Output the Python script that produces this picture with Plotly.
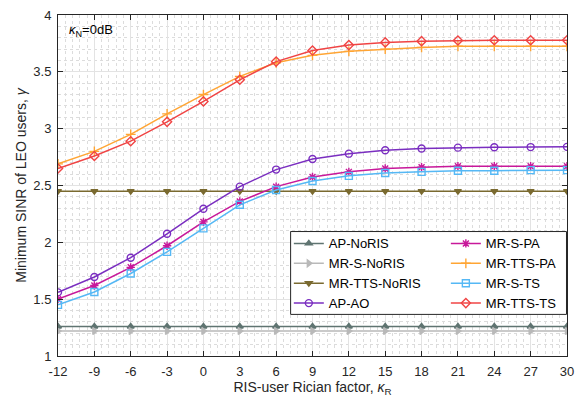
import plotly.graph_objects as go

x = [-12, -9, -6, -3, 0, 3, 6, 9, 12, 15, 18, 21, 24, 27, 30]

ap_noris = [1.26] * 15
mr_s_noris = [1.22] * 15
mr_tts_noris = [2.45] * 15
ap_ao = [1.56, 1.695, 1.865, 2.075, 2.295, 2.49, 2.64, 2.733, 2.78, 2.81, 2.825, 2.833, 2.836, 2.838, 2.84]
mr_s_pa = [1.50, 1.62, 1.78, 1.97, 2.18, 2.36, 2.49, 2.575, 2.62, 2.65, 2.66, 2.67, 2.67, 2.67, 2.67]
mr_tts_pa = [2.69, 2.80, 2.95, 3.13, 3.30, 3.46, 3.58, 3.645, 3.68, 3.70, 3.715, 3.725, 3.725, 3.725, 3.725]
mr_s_ts = [1.45, 1.563, 1.726, 1.916, 2.123, 2.33, 2.46, 2.54, 2.585, 2.61, 2.62, 2.63, 2.63, 2.635, 2.635]
mr_tts_ts = [2.65, 2.76, 2.89, 3.06, 3.24, 3.43, 3.59, 3.687, 3.735, 3.759, 3.77, 3.776, 3.778, 3.778, 3.778]

series = [
    # name, data, color, symbol, fill, legend, rank
    ("AP-NoRIS", ap_noris, "#5f7471", "triangle-up", True, "legend", 1),
    ("MR-S-NoRIS", mr_s_noris, "#b9b9b9", "triangle-right", True, "legend", 2),
    ("MR-TTS-NoRIS", mr_tts_noris, "#7a6a30", "triangle-down", True, "legend", 3),
    ("AP-AO", ap_ao, "#7a2ec0", "circle-open", False, "legend", 4),
    ("MR-S-PA", mr_s_pa, "#c8189a", "asterisk-open", False, "legend2", 5),
    ("MR-TTS-PA", mr_tts_pa, "#ffa534", "cross-thin-open", False, "legend2", 6),
    ("MR-S-TS", mr_s_ts, "#55b8f5", "square-open", False, "legend2", 7),
    ("MR-TTS-TS", mr_tts_ts, "#f04444", "diamond-open", False, "legend2", 8),
]

fig = go.Figure()
for name, ys, col, sym, filled, leg, rank in series:
    marker = dict(symbol=sym, size=6 if filled else 7, color=col,
                  line=dict(color=col, width=1.4))
    fig.add_trace(go.Scatter(
        x=x, y=ys, name=name, mode="lines+markers",
        line=dict(color=col, width=1.5), marker=marker,
        legend=leg, legendrank=rank,
    ))

axis_common = dict(
    showline=True, linecolor="#262626", linewidth=1, mirror="ticks",
    ticks="inside", ticklen=5, tickcolor="#262626",
    showgrid=True, gridcolor="#e3e3e3", gridwidth=1,
    zeroline=False, tickfont=dict(family="Liberation Sans, Arial", size=13, color="#262626"),
)

fig.update_xaxes(
    range=[-12, 30], tickmode="array", tickvals=x,
    ticktext=[str(v) for v in x], ticklabelstandoff=3,
    title=dict(text="RIS-user Rician factor, <i>κ</i><sub>R</sub>",
               font=dict(family="Liberation Sans, Arial", size=14, color="#262626"),
               standoff=2),
    minor=dict(dtick=0.6, showgrid=True, gridcolor="#dcdcdc", griddash="dot", ticks=""),
    **axis_common,
)
fig.update_yaxes(
    range=[1, 4], dtick=0.5, ticklabelstandoff=3,
    title=dict(text="Minimum SINR of LEO users, <i>γ</i>",
               font=dict(family="Liberation Sans, Arial", size=14, color="#262626"),
               standoff=3),
    minor=dict(dtick=0.1, showgrid=True, gridcolor="#dcdcdc", griddash="dot", ticks=""),
    **axis_common,
)

fig.add_shape(type="rect", xref="paper", yref="paper",
              x0=0.457, x1=0.999, y0=0.122, y1=0.365,
              line=dict(color="#262626", width=1), fillcolor="white", layer="above")

legfont = dict(family="Liberation Sans, Arial", size=13, color="#000000")
fig.update_layout(
    width=582, height=407,
    margin=dict(l=58, r=8, t=8, b=51),
    paper_bgcolor="white", plot_bgcolor="white",
    legend=dict(x=0.4535, y=0.374, xanchor="left", yanchor="top",
                bgcolor="rgba(0,0,0,0)", font=legfont, tracegroupgap=0,
                itemwidth=30),
    legend2=dict(x=0.762, y=0.374, xanchor="left", yanchor="top",
                 bgcolor="rgba(0,0,0,0)", font=legfont, tracegroupgap=0,
                 itemwidth=30),
    annotations=[dict(x=0.018, y=0.985, xref="paper", yref="paper",
                      xanchor="left", yanchor="top", showarrow=False,
                      text="<i>κ</i><sub>N</sub>=0dB",
                      font=dict(family="Liberation Sans, Arial", size=13, color="#000"))],
)

fig.write_html("out.html")
